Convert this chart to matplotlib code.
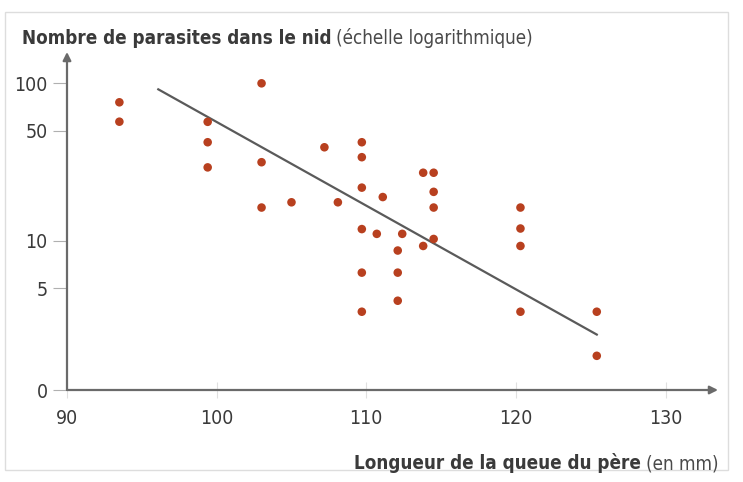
import numpy as np
import matplotlib
matplotlib.use('Agg')
import matplotlib.pyplot as plt
from matplotlib.patches import Rectangle

plt.rcParams['font.family'] = ['DejaVu Sans']
plt.rcParams['font.stretch'] = 'condensed'

# longueur de la queue du pere (mm) et nombre de parasites
queue = [93.5, 93.5,
         99.4, 99.4, 99.4,
         103.0, 103.0, 103.0,
         105.0, 107.2, 108.1,
         109.7, 109.7, 109.7, 109.7, 109.7, 109.7,
         110.7, 111.1,
         112.1, 112.1, 112.1, 112.4,
         113.8, 113.8,
         114.5, 114.5, 114.5, 114.5,
         120.3, 120.3, 120.3, 120.3,
         125.4, 125.4]
parasites = [75.8, 57.1,
             57.0, 42.3, 29.3,
             100.0, 31.6, 16.3,
             17.6, 39.3, 17.6,
             42.3, 34.0, 21.8, 11.9, 6.3, 3.56,
             11.1, 19.0,
             8.7, 6.3, 4.18, 11.1,
             27.1, 9.3,
             27.1, 20.5, 16.3, 10.3,
             16.3, 12.0, 9.3, 3.56,
             3.56, 1.87]

# droite de regression (extremites)
reg_x = [96.1, 125.4]
reg_y = [91.6, 2.55]

yticks = [1.135, 5, 10, 50, 100]
ytick_labels = ['0', '5', '10', '50', '100']
xticks = [90, 100, 110, 120, 130]

W, H = 743, 482
fig = plt.figure(figsize=(W / 100, H / 100), dpi=100)
fig.patches.append(Rectangle((5 / W, 1 - 470 / H), 723 / W, 458 / H,
                             transform=fig.transFigure, fill=False,
                             edgecolor='#dddddd', linewidth=1))

ax = fig.add_axes([67 / W, 1 - 390 / H, (718 - 67) / W, (390 - 52) / H])
ax.set_yscale('log')
ax.set_xlim(90, 133.5)
ax.set_ylim(1.135, 158)

ax.plot(reg_x, reg_y, color='#5a5a5a', linewidth=1.6, zorder=2)
ax.scatter(queue, parasites, s=38, color='#b8401f', edgecolors='none', zorder=3)

for s in ax.spines.values():
    s.set_visible(False)
axc = '#6a6a6a'
ax.annotate('', xy=(1, 0), xytext=(0, 0), xycoords='axes fraction',
            arrowprops=dict(arrowstyle='-|>', color=axc, lw=1.6,
                            mutation_scale=12, shrinkA=0, shrinkB=0))
ax.annotate('', xy=(0, 1), xytext=(0, 0), xycoords='axes fraction',
            arrowprops=dict(arrowstyle='-|>', color=axc, lw=1.6,
                            mutation_scale=12, shrinkA=0, shrinkB=0))

ax.set_yticks(yticks)
ax.set_yticklabels(ytick_labels)
ax.yaxis.set_minor_locator(matplotlib.ticker.NullLocator())
ax.set_xticks(xticks)
ax.tick_params(axis='y', length=10, width=0.8, color='#b0b0b0', pad=4,
               labelsize=14, labelcolor='#3a3a3a')
ax.tick_params(axis='x', direction='inout', length=12, width=0.8, color='#e0e0e0',
               pad=8, labelsize=14, labelcolor='#3a3a3a')

t1 = fig.text(22 / W, 1 - 44 / H, 'Nombre de parasites dans le nid', fontsize=13.5,
              fontweight='bold', color='#3a3a3a', va='baseline')
fig.canvas.draw()
bb = t1.get_window_extent()
fig.text((bb.x1 + 5) / W, 1 - 44 / H, '(échelle logarithmique)', fontsize=13.5,
         color='#4a4a4a', va='baseline')

t2 = fig.text(718 / W, 1 - 469 / H, '(en mm)', fontsize=13.5, color='#4a4a4a',
              va='baseline', ha='right')
fig.canvas.draw()
bb2 = t2.get_window_extent()
fig.text((bb2.x0 - 5) / W, 1 - 469 / H, 'Longueur de la queue du père', fontsize=13.5,
         fontweight='bold', color='#3a3a3a', va='baseline', ha='right')

fig.savefig('out.png', dpi=100)
